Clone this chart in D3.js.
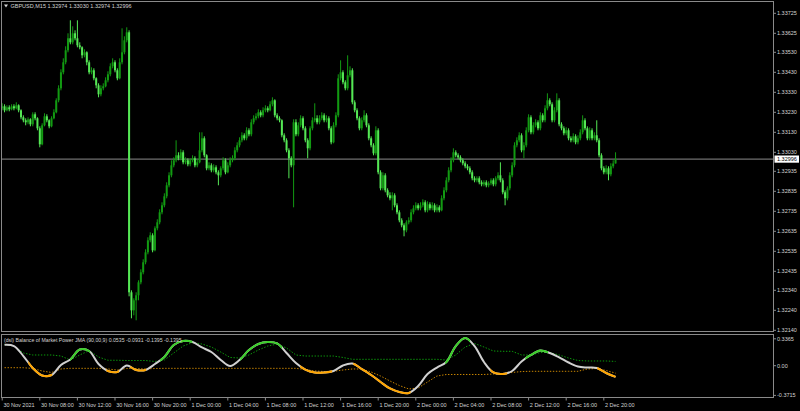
<!DOCTYPE html>
<html><head><meta charset="utf-8">
<script src="https://cdn.jsdelivr.net/npm/d3@7"></script>
<style>
html,body{margin:0;padding:0;background:#000;}
svg{display:block;}
text{font-family:"Liberation Sans",Arial,sans-serif;font-size:5.5px;fill:#d4d4d4;}
</style></head><body>
<svg id="c" width="800" height="411"></svg>
<script>
// ---------------- DATA ----------------
const symbol = "GBPUSD,M15";
const lastQuote = ["1.32974","1.33030","1.32974","1.32996"];
const lastPrice = "1.32996";
const priceTicks = ["1.33725","1.33625","1.33530","1.33430","1.33330","1.33230","1.33130","1.33030",
  "1.32935","1.32835","1.32735","1.32635","1.32535","1.32435","1.32340","1.32240","1.32140"];
const timeTicks = ["30 Nov 2021","30 Nov 08:00","30 Nov 12:00","30 Nov 16:00","30 Nov 20:00",
  "1 Dec 00:00","1 Dec 04:00","1 Dec 08:00","1 Dec 12:00","1 Dec 16:00","1 Dec 20:00",
  "2 Dec 00:00","2 Dec 04:00","2 Dec 08:00","2 Dec 12:00","2 Dec 16:00","2 Dec 20:00"];
const timeTickBars = [0,16,32,48,64,80,96,112,128,144,160,176,192,208,224,240,256];

// M15 OHLC, in points above 1.32000
const opens = [1250,1260,1240,1255,1245,1260,1250,1265,1240,1205,
1190,1180,1195,1170,1220,1200,1150,1070,1165,1210,
1190,1160,1200,1230,1290,1350,1430,1480,1540,1600,
1580,1625,1600,1565,1555,1515,1530,1480,1430,1440,
1400,1365,1320,1350,1360,1390,1420,1460,1480,1440,
1400,1480,1530,1590,1630,330,240,290,315,380,
430,480,530,590,615,540,650,680,730,765,
810,865,915,965,990,1015,1000,1030,980,990,
970,990,1000,965,980,1040,1100,1015,950,965,
940,955,930,915,950,990,930,965,990,1000,
1040,1065,1090,1115,1100,1140,1120,1180,1200,1210,
1230,1215,1240,1250,1240,1270,1290,1215,1200,1190,
1115,1090,1040,1000,965,1180,1120,1165,1200,1150,
1090,1050,1150,1190,1200,1180,1200,1215,1190,1200,
1150,1080,1165,1215,1400,1430,1380,1350,1415,1440,
1280,1240,1200,1150,1190,1215,1165,1100,1065,1025,
1140,930,850,915,840,815,800,815,765,730,
690,665,640,680,690,730,750,765,750,765,
780,740,770,750,765,740,755,740,800,840,
890,940,990,1030,1015,1005,990,975,960,950,
930,900,890,900,880,870,880,865,875,890,
870,900,915,890,830,800,850,915,965,1065,
1090,1115,1040,1065,1140,1205,1130,1165,1180,1150,
1215,1190,1250,1290,1270,1190,1240,1290,1170,1150,
1125,1140,1100,1090,1110,1080,1100,1130,1190,1150,
1100,1140,1100,1115,1090,1015,950,930,950,920,
960,974];
const highs = [1275,1270,1265,1265,1270,1270,1280,1270,1245,1215,
1200,1205,1200,1230,1230,1205,1160,1175,1225,1220,
1195,1210,1245,1300,1365,1445,1500,1560,1625,1690,
1660,1640,1690,1580,1560,1545,1535,1490,1455,1450,
1405,1375,1365,1375,1405,1435,1475,1500,1490,1450,
1500,1650,1610,1655,1640,340,300,330,390,445,
495,545,605,630,625,660,695,745,780,825,
880,930,990,1005,1090,1030,1045,1040,1005,1000,
1000,1015,1010,995,1130,1130,1110,1020,980,975,
970,965,940,960,1005,1000,980,1005,1015,1055,
1080,1105,1130,1125,1155,1150,1195,1215,1225,1245,
1240,1255,1265,1260,1285,1305,1295,1225,1210,1195,
1125,1100,1050,1010,1195,1195,1180,1215,1210,1160,
1100,1160,1205,1275,1215,1215,1230,1225,1215,1210,
1160,1180,1230,1420,1490,1440,1390,1515,1460,1450,
1290,1250,1210,1205,1240,1225,1175,1110,1075,1160,
1150,940,930,925,850,830,830,825,775,740,
700,675,690,705,745,765,780,775,780,795,
790,785,780,780,775,770,765,815,855,905,
955,1005,1050,1040,1025,1015,1000,985,970,960,
940,910,910,910,890,890,890,885,900,900,
910,930,980,900,840,860,930,980,1080,1105,
1130,1125,1080,1155,1220,1215,1180,1195,1190,1230,
1225,1265,1325,1300,1280,1255,1325,1300,1180,1160,
1155,1150,1110,1125,1120,1115,1145,1215,1200,1160,
1155,1150,1130,1190,1100,1025,960,965,960,975,
990,1030];
const lows = [1240,1230,1235,1235,1240,1240,1245,1230,1195,1180,
1165,1170,1160,1160,1190,1140,1055,1065,1160,1180,
1150,1155,1195,1225,1280,1340,1420,1470,1530,1570,
1570,1590,1555,1545,1500,1505,1465,1420,1420,1390,
1350,1305,1310,1340,1355,1380,1410,1450,1430,1390,
1395,1470,1520,1580,310,200,215,190,290,370,
420,470,520,580,530,535,640,670,720,755,
800,855,905,955,980,990,990,970,970,960,
960,980,955,955,975,1030,1005,940,940,930,
930,920,865,905,940,920,925,955,980,990,
1030,1055,1080,1090,1090,1110,1110,1170,1190,1200,
1205,1205,1230,1230,1235,1260,1205,1190,1180,1105,
1080,1030,900,955,755,1110,1110,1155,1140,1080,
1000,1040,1140,1180,1170,1170,1190,1180,1180,1140,
1070,1075,1155,1205,1390,1370,1340,1340,1405,1270,
1230,1190,1140,1140,1180,1155,1090,1055,1015,1015,
920,840,840,830,805,790,740,755,720,680,
655,610,630,670,680,720,740,740,740,755,
730,730,740,740,730,730,730,735,790,830,
880,930,980,1005,995,980,965,950,940,920,
890,880,880,870,860,860,855,855,865,860,
860,890,880,820,765,790,840,905,955,1055,
1080,1030,1000,1055,1130,1120,1120,1155,1140,1140,
1180,1180,1240,1260,1180,1180,1230,1160,1140,1115,
1115,1090,1080,1080,1070,1070,1090,1120,1140,1090,
1090,1090,1090,1080,1005,940,920,920,890,910,
950,974];
const closes = [1260,1240,1255,1245,1260,1250,1265,1240,1205,1190,
1180,1195,1170,1220,1200,1150,1070,1165,1210,1190,
1160,1200,1230,1290,1350,1430,1480,1540,1600,1580,
1625,1600,1565,1555,1515,1530,1480,1430,1440,1400,
1365,1320,1350,1360,1390,1420,1460,1480,1440,1400,
1480,1530,1590,1630,330,240,290,315,380,430,
480,530,590,615,540,650,680,730,765,810,
865,915,965,990,1015,1000,1030,980,990,970,
990,1000,965,980,1040,1100,1015,950,965,940,
955,930,915,950,990,930,965,990,1000,1040,
1065,1090,1115,1100,1140,1120,1180,1200,1210,1230,
1215,1240,1250,1240,1270,1290,1215,1200,1190,1115,
1090,1040,1000,965,1180,1120,1165,1200,1150,1090,
1050,1150,1190,1200,1180,1200,1215,1190,1200,1150,
1080,1165,1215,1400,1430,1380,1350,1415,1440,1280,
1240,1200,1150,1190,1215,1165,1100,1065,1025,1140,
930,850,915,840,815,800,815,765,730,690,
665,640,680,690,730,750,765,750,765,780,
740,770,750,765,740,755,740,800,840,890,
940,990,1030,1015,1005,990,975,960,950,930,
900,890,900,880,870,880,865,875,890,870,
900,915,890,830,800,850,915,965,1065,1090,
1115,1040,1065,1140,1205,1130,1165,1180,1150,1215,
1190,1250,1290,1270,1190,1240,1290,1170,1150,1125,
1140,1100,1090,1110,1080,1100,1130,1190,1150,1100,
1140,1100,1115,1090,1015,950,930,950,920,960,
974,996];

// Indicator: Balance of Market Power JMA (dsl), sampled on these bars
const indTitle = "(dsl) Balance of Market Power JMA (90,00,9) 0.0535 -0.0931 -0.1395 -0.1395";
const indBars = [1,5,9,13,17,21,25,29,33,37,41,45,49,53,57,61,65,69,73,77,81,85,89,93,97,101,
105,109,113,117,121,125,129,133,137,141,145,149,153,157,161,165,169,173,177,181,185,189,193,197,
201,205,209,213,217,221,225,229,233,237,241,245,249,253,257,261];
const bmp = [0.261,0.246,0.121,-0.029,-0.123,-0.116,0.009,0.078,0.203,0.184,
0.021,-0.066,-0.079,0.003,-0.054,-0.054,0.021,0.109,0.259,0.309,
0.296,0.228,0.171,0.071,-0.004,0.071,0.196,0.271,0.296,0.278,
0.159,0.034,-0.048,-0.085,-0.085,-0.066,0.003,0.028,-0.041,-0.116,
-0.204,-0.285,-0.329,-0.341,-0.254,-0.104,-0.023,0.046,0.246,0.346,
0.246,0.046,-0.085,-0.104,-0.066,0.053,0.134,0.190,0.159,0.103,
0.040,-0.010,-0.023,-0.029,-0.091,-0.1395];
const levelUp = [0.265,0.246,0.159,0.134,0.134,0.134,0.121,0.071,0.134,0.190,
0.109,0.068,0.068,0.065,0.065,0.065,0.053,0.071,0.159,0.246,
0.290,0.271,0.234,0.171,0.103,0.096,0.134,0.196,0.246,0.271,
0.221,0.134,0.121,0.121,0.121,0.121,0.103,0.080,0.080,0.080,
0.080,0.080,0.080,0.080,0.080,0.080,0.080,0.071,0.134,0.234,
0.278,0.234,0.184,0.180,0.180,0.134,0.134,0.165,0.165,0.134,
0.096,0.065,0.059,0.059,0.059,0.0535];
const levelDn = [-0.025,-0.025,-0.025,-0.035,-0.066,-0.085,-0.041,-0.033,-0.033,-0.033,
-0.033,-0.041,-0.054,-0.035,-0.035,-0.041,-0.035,-0.033,-0.033,-0.033,
-0.033,-0.033,-0.033,-0.033,-0.033,-0.033,-0.033,-0.033,-0.033,-0.033,
-0.033,-0.033,-0.048,-0.066,-0.073,-0.070,-0.054,-0.041,-0.041,-0.079,
-0.129,-0.191,-0.248,-0.291,-0.279,-0.204,-0.129,-0.110,-0.110,-0.110,
-0.110,-0.110,-0.104,-0.098,-0.085,-0.073,-0.070,-0.070,-0.070,-0.070,
-0.070,-0.070,-0.041,-0.035,-0.060,-0.0931];
// colour runs of the main line, in bar units: [from, to, state]
const runStart = [11.1,28.9,44.3,54.5,67.2,101.3,126.8,149.4,188.5,207.7,222.6,253.2];
const runEnd   = [21.3,37.4,49.8,61.3,80.9,119.1,140.4,173.8,199.1,214.9,232.3,262];
const runState = ["dn","up","dn","dn","up","up","dn","dn","up","dn","up","dn"];
const indTicks = ["0.3365","0.00","-0.3715"];

// ---------------- DRAW ----------------
const svg = d3.select("#c");
const W = 800, H = 411;
const L = 1.5, R = 773.5, mainTop = 1.5, mainBot = 331.5, indTop = 334.5, indBot = 397.5;
const frameCol = "#8a8a8a";

const x = d3.scaleLinear().domain([0, 261]).range([2.2, 2.2 + 2.35*261]);
const pr = v => 1.32 + v/100000;
const y = d3.scaleLinear().domain([1.32140, 1.33725]).range([330.3, 13.3]);
const yi = d3.scaleLinear().domain([-0.3715, 0.3365]).range([395.4, 338.8]);

const defs = svg.append("defs");
defs.append("clipPath").attr("id","mainClip").append("rect")
  .attr("x", L).attr("y", mainTop).attr("width", R-L).attr("height", mainBot-mainTop);
defs.append("clipPath").attr("id","indClip").append("rect")
  .attr("x", L).attr("y", indTop).attr("width", R-L).attr("height", indBot-indTop);

// bid line
svg.append("line").attr("x1", L).attr("x2", R)
  .attr("y1", y(+lastPrice)).attr("y2", y(+lastPrice))
  .attr("stroke", "#8c8c8c").attr("stroke-width", 1);

// candles
const gC = svg.append("g").attr("clip-path","url(#mainClip)");
const bull = "#129a12", bear = "#55e855";
const idx = d3.range(opens.length);
gC.selectAll("line.w").data(idx).join("line")
  .attr("x1", i => x(i)).attr("x2", i => x(i))
  .attr("y1", i => y(pr(highs[i]))).attr("y2", i => y(pr(lows[i])))
  .attr("stroke", i => closes[i] >= opens[i] ? bull : bear).attr("stroke-width", 1);
gC.selectAll("rect.b").data(idx).join("rect")
  .attr("x", i => x(i) - 1).attr("width", 2)
  .attr("y", i => y(pr(Math.max(opens[i], closes[i]))))
  .attr("height", i => Math.max(0.8, Math.abs(y(pr(opens[i])) - y(pr(closes[i])))))
  .attr("fill", i => closes[i] >= opens[i] ? bull : bear);

// frames
svg.append("rect").attr("x", L).attr("y", mainTop).attr("width", R-L).attr("height", mainBot-mainTop)
  .attr("fill","none").attr("stroke", frameCol).attr("stroke-width",1);
svg.append("rect").attr("x", L).attr("y", indTop).attr("width", R-L).attr("height", indBot-indTop)
  .attr("fill","none").attr("stroke", frameCol).attr("stroke-width",1);

// title
svg.append("path").attr("d","M4,4.5 L8,4.5 L6,7.5 Z").attr("fill","#d4d4d4");
svg.append("text").attr("x", 10.5).attr("y", 8.3)
  .text(symbol + "  " + lastQuote.join(" "));

// price axis
priceTicks.forEach(t => {
  const yy = y(+t);
  svg.append("line").attr("x1", R).attr("x2", R+2.5).attr("y1", yy).attr("y2", yy)
    .attr("stroke", frameCol);
  svg.append("text").attr("x", R+3.5).attr("y", yy).attr("dy","0.36em").text(t);
});
// current price box
{
  const yy = y(+lastPrice);
  svg.append("rect").attr("x", R+1).attr("y", yy-3.6).attr("width", 24.5).attr("height", 7.2)
    .attr("fill", "#fff");
  svg.append("text").attr("x", R+3.5).attr("y", yy).attr("dy","0.36em")
    .style("fill","#000").text(lastPrice);
}

// indicator axis
indTicks.forEach(t => {
  const yy = yi(+t);
  svg.append("line").attr("x1", R).attr("x2", R+2.5).attr("y1", yy).attr("y2", yy)
    .attr("stroke", frameCol);
  svg.append("text").attr("x", R+3.5).attr("y", yy).attr("dy","0.36em").text(t);
});

// time axis
timeTicks.forEach((t, k) => {
  const xx = x(timeTickBars[k]);
  svg.append("line").attr("x1", xx).attr("x2", xx).attr("y1", indBot).attr("y2", indBot+3)
    .attr("stroke", frameCol);
  svg.append("text").attr("x", Math.max(2.5, xx+1.2)).attr("y", 406.5).text(t);
});

// indicator
const gI = svg.append("g").attr("clip-path","url(#indClip)");
const lineGen = d3.line().x((d, k) => x(indBars[k])).y(d => yi(d));
gI.append("path").attr("d", lineGen.curve(d3.curveLinear)(levelUp))
  .attr("fill","none").attr("stroke","#0b9a0b").attr("stroke-width",1).attr("stroke-dasharray","1.4,1.6");
gI.append("path").attr("d", lineGen.curve(d3.curveLinear)(levelDn))
  .attr("fill","none").attr("stroke","#c98500").attr("stroke-width",1).attr("stroke-dasharray","1.4,1.6");
const mainD = lineGen.curve(d3.curveCatmullRom)(bmp);
gI.append("path").attr("d", mainD).attr("fill","none")
  .attr("stroke","#d0d0d0").attr("stroke-width",2);
runStart.forEach((s, j) => {
  const id = "run" + j;
  defs.append("clipPath").attr("id", id).append("rect")
    .attr("x", x(s)).attr("width", x(runEnd[j]) - x(s))
    .attr("y", indTop).attr("height", indBot - indTop);
  gI.append("g").attr("clip-path", `url(#${id})`)
    .append("path").attr("d", mainD).attr("fill","none")
    .attr("stroke", runState[j] === "up" ? "#3ccf2a" : "#ffa500").attr("stroke-width",2);
});
svg.append("text").attr("x", 4).attr("y", 342).style("font-size","5.2px").text(indTitle);
</script>
</body></html>
